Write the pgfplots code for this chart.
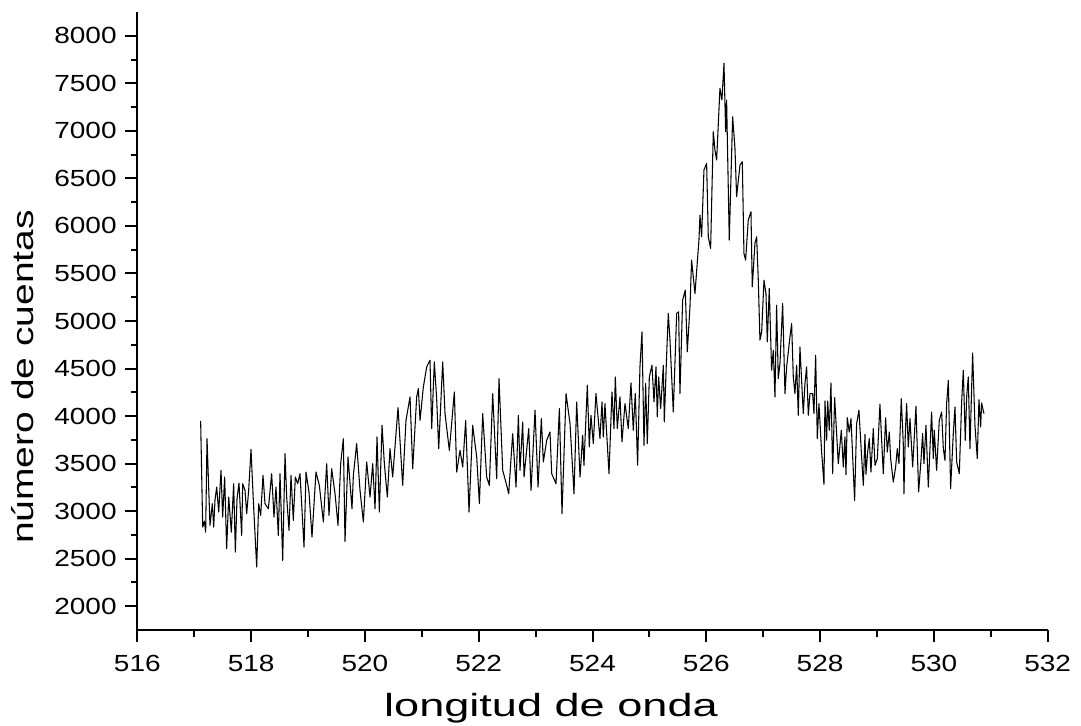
\documentclass[border=0pt]{standalone}
\usepackage{fontspec}
\setmainfont{Liberation Sans}
\newfontfamily\tickfont[FakeStretch=1.2]{Liberation Sans}
\newfontfamily\labfont[FakeStretch=1.3]{Liberation Sans}
\newfontfamily\xlabfont[FakeStretch=1.41]{Liberation Sans}
\usepackage{pgfplots}
\usepackage{pgfplotstable}
\pgfplotsset{compat=1.18}
\pgfplotstableread{
x y
517.113 3948
517.149 2832
517.178 2895
517.201 2779
517.225 3762
517.277 2850
517.318 3078
517.342 2832
517.365 3113
517.395 3253
517.430 2990
517.471 3429
517.500 2937
517.535 3359
517.570 2604
517.606 3148
517.652 2779
517.693 3288
517.723 2569
517.752 3130
517.787 3295
517.834 2744
517.852 3288
517.893 3218
517.922 2973
517.957 3218
517.998 3650
518.039 3113
518.098 2411
518.133 3078
518.168 2955
518.209 3376
518.244 3078
518.303 3025
518.361 3394
518.402 2937
518.437 3253
518.478 2744
518.508 3394
518.555 2481
518.596 3604
518.625 3148
518.666 2797
518.701 3376
518.742 2902
518.777 3359
518.818 3288
518.859 3394
518.930 2622
518.965 3411
519.017 3201
519.070 2727
519.140 3411
519.199 3271
519.270 2885
519.328 3499
519.369 2955
519.416 3446
519.475 3183
519.527 2850
519.574 3499
519.621 3762
519.650 2681
519.703 3569
519.773 3025
519.797 3376
519.855 3710
519.914 3218
519.973 2885
520.031 3517
520.090 3148
520.137 3499
520.178 3025
520.213 3780
520.254 2990
520.301 3903
520.342 3499
520.394 3148
520.441 3657
520.488 3359
520.582 4089
520.664 3271
520.722 3955
520.793 4201
520.840 3446
520.910 4201
520.939 4289
520.969 3955
521.027 4306
521.086 4517
521.144 4587
521.174 3868
521.220 4570
521.261 4183
521.297 3657
521.367 4570
521.408 4026
521.484 3639
521.572 4254
521.613 3411
521.672 3639
521.719 3464
521.771 3955
521.830 2990
521.894 3903
521.965 3569
522.012 3078
522.070 4026
522.140 3359
522.187 3271
522.246 4236
522.316 3341
522.357 4394
522.422 3429
522.492 3271
522.527 3183
522.597 3815
522.656 3253
522.697 4008
522.726 3429
522.773 3938
522.797 3359
522.879 3868
522.920 3218
522.990 4061
523.043 3253
523.101 3973
523.136 3517
523.195 3745
523.253 3832
523.283 3394
523.359 3288
523.418 4078
523.464 2973
523.535 4236
523.605 3920
523.675 3183
523.722 4148
523.781 3359
523.827 3798
523.850 3482
523.909 4324
523.944 3675
523.973 4008
524.014 3710
524.061 4237
524.131 3763
524.167 4149
524.190 3780
524.219 4131
524.290 3394
524.342 4254
524.378 3868
524.401 4412
524.436 3868
524.483 4202
524.518 3728
524.571 4131
524.629 3868
524.676 4349
524.717 3851
524.752 4237
524.793 3482
524.834 4517
524.870 4886
524.905 3693
524.934 4342
524.963 3710
524.999 4412
525.045 4535
525.081 4149
525.116 4517
525.139 3991
525.163 4412
525.198 4079
525.245 4535
525.262 3938
525.303 4640
525.332 5079
525.362 4798
525.420 4043
525.479 5079
525.514 5097
525.537 4237
525.584 5219
525.631 5325
525.666 4675
525.713 5149
525.742 5640
525.801 5289
525.871 5851
525.889 6114
525.918 5886
525.959 6588
526.006 6658
526.035 5886
526.076 5763
526.123 6991
526.152 6798
526.182 6693
526.240 7448
526.275 7325
526.311 7711
526.340 6991
526.357 7325
526.404 5851
526.463 7149
526.504 6816
526.533 6307
526.592 6640
526.633 6675
526.662 5710
526.691 5640
526.738 6061
526.785 6149
526.808 5359
526.855 5816
526.885 5886
526.914 5429
526.943 4798
526.973 4885
527.014 5429
527.049 5289
527.072 4780
527.107 5342
527.148 4482
527.178 4692
527.207 4201
527.236 5166
527.265 4394
527.295 4552
527.342 5184
527.383 4236
527.412 4517
527.471 4833
527.500 4973
527.529 4412
527.558 4236
527.588 4534
527.617 4008
527.646 4727
527.675 4377
527.705 4026
527.734 4341
527.763 4517
527.793 4008
527.822 4236
527.869 4236
527.892 4026
527.922 4640
527.951 3762
527.980 4131
528.027 3622
528.068 3281
528.086 4159
528.115 3745
528.133 4159
528.162 3850
528.191 4348
528.221 3394
528.256 4194
528.291 3815
528.320 3499
528.373 3850
528.408 3464
528.437 3780
528.455 3383
528.478 3983
528.513 3832
528.543 3973
528.607 3113
528.642 3920
528.683 4061
528.730 3569
528.760 3271
528.789 3808
528.806 3387
528.836 3622
528.865 3762
528.894 3411
528.935 3868
528.965 3481
529.006 3552
529.052 4124
529.082 3745
529.111 3394
529.152 3983
529.181 3622
529.217 3832
529.240 3552
529.287 3306
529.328 3464
529.357 3657
529.386 3499
529.427 4183
529.462 3710
529.474 3183
529.498 3815
529.521 4131
529.550 3675
529.580 3973
529.627 3464
529.685 4103
529.732 3201
529.773 3534
529.802 3815
529.826 3499
529.861 3903
529.902 3253
529.931 3657
529.960 4043
529.990 3552
530.007 3850
530.048 3429
530.095 3955
530.136 4043
530.166 3657
530.195 3534
530.224 4131
530.254 4376
530.294 3236
530.341 3815
530.371 4096
530.400 3517
530.447 3394
530.488 4148
530.517 4482
530.552 3745
530.576 4201
530.605 4412
530.634 3657
530.681 4664
530.722 3903
530.763 3552
530.792 4173
530.822 3885
530.839 4138
530.880 4026
}\spectrum
\begin{document}
\begin{tikzpicture}
\useasboundingbox (-103pt,-72pt) rectangle (707.8pt,472.5pt);
\begin{axis}[
  at={(0pt,0pt)}, anchor=south west,
  scale only axis,
  width=682.8pt, height=463.5pt,
  xmin=516, xmax=532, ymin=1750, ymax=8250,
  axis lines*=left,
  axis line style={line width=1.5pt, -},
  xtick={516,518,...,532},
  ytick={2000,2500,...,8000},
  minor x tick num=1,
  minor y tick num=1,
  tick align=outside,
  major tick length=9pt,
  minor tick length=5pt,
  every tick/.style={black, line width=1.5pt},
  scaled y ticks=false,
  scaled x ticks=false,
  /pgf/number format/1000 sep={},
  /pgf/number format/assume math mode=true,
  tick label style={font=\tickfont\fontsize{17.5}{20}\selectfont},
  xticklabel style={yshift=-6.5pt},
  yticklabel style={xshift=-3pt},
  xlabel={longitud de onda},
  ylabel={número de cuentas},
  xlabel style={font=\xlabfont\fontsize{24}{28}\selectfont, at={(axis description cs:0.4544,-0.1408)}, anchor=base},
  ylabel style={font=\labfont\fontsize{22.5}{26}\selectfont, at={(axis description cs:-0.1142,0.4094)}, anchor=base, rotate=0},
  clip=false,
]
\addplot[black, line width=0.8pt, line join=round, no marks] table[x=x,y=y] {\spectrum};
\end{axis}
\end{tikzpicture}
\end{document}
